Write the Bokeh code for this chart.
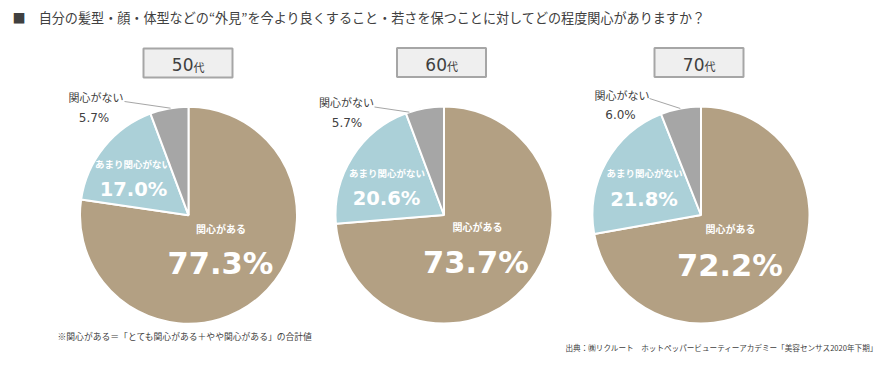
import math
from bokeh.plotting import figure
from bokeh.models import Range1d
from bokeh.core.properties import value
from bokeh.embed import file_html
from bokeh.resources import INLINE

# ---- data ----
groups = ["50代", "60代", "70代"]
group_num = ["50", "60", "70"]
group_suffix = ["代", "代", "代"]
categories = ["関心がある", "あまり関心がない", "関心がない"]
shares = {
    "50代": [77.3, 17.0, 5.7],
    "60代": [73.7, 20.6, 5.7],
    "70代": [72.2, 21.8, 6.0],
}
title_text = "■　自分の髪型・顔・体型などの“外見”を今より良くすること・若さを保つことに対してどの程度関心がありますか？"
note_text = "※関心がある＝「とても関心がある＋やや関心がある」の合計値"
source_text = "出典：㈱リクルート　ホットペッパービューティーアカデミー「美容センサス2020年下期」"

# ---- layout (page pixel coordinates) ----
W, H = 893, 366
colors = ["#B3A083", "#ABD0D8", "#A6A6A6"]
centers = [(188.0, 214.7), (443.5, 214.5), (700.5, 214.5)]
R = 108.5
box_centers = [(187.5, 62.5), (441.0, 62.0), (698.5, 62.0)]
# label anchor positions per pie: (big-cat label, big pct, mid label, mid pct, small label, small pct)
lab_pos = [
    [(220.5, 228), (220, 263), (132.5, 163), (133, 189), (95.5, 96.7), (93.5, 117)],
    [(477, 226), (475.5, 262), (386.5, 172.7), (386, 198), (346, 101.5), (346.5, 122)],
    [(730, 228), (729.5, 265), (644, 172.7), (643.5, 199), (621.5, 94), (620, 114)],
]
leader_start = [(124, 101), (374, 106.5), (649, 98)]
leader_angle = [99.5, 108.6, 101.0]

JP = value("Noto Sans CJK JP")
NUM = value("DejaVu Sans")
DARK = "#404040"


def X(px):
    return px


def Y(py):
    return H - py


p = figure(width=W, height=H, x_range=Range1d(0, W), y_range=Range1d(0, H),
           output_backend="svg", toolbar_location=None, min_border=0)
p.axis.visible = False
p.grid.visible = False
p.outline_line_color = None
p.background_fill_color = "white"

for gi, g in enumerate(groups):
    cx, cy = centers[gi]
    vals = shares[g]
    tot = sum(vals)
    cum = 0.0
    starts, ends = [], []
    for v in vals:
        starts.append(math.pi / 2 - 2 * math.pi * cum / tot)
        cum += v
        ends.append(math.pi / 2 - 2 * math.pi * cum / tot)
    p.wedge(x=[X(cx)] * 3, y=[Y(cy)] * 3, radius=R, start_angle=starts, end_angle=ends,
            direction="clock", fill_color=colors, line_color="white", line_width=2)

    lp = lab_pos[gi]
    p.text(x=[X(lp[0][0])], y=[Y(lp[0][1])], text=[categories[0]], text_font=JP,
           text_font_size="10px", text_font_style="bold", text_color="white",
           text_align="center", text_baseline="middle")
    p.text(x=[X(lp[1][0])], y=[Y(lp[1][1])], text=[f"{vals[0]:.1f}%"], text_font=NUM,
           text_font_size="30.5px", text_font_style="bold", text_color="white",
           text_align="center", text_baseline="middle")
    p.text(x=[X(lp[2][0])], y=[Y(lp[2][1])], text=[categories[1]], text_font=JP,
           text_font_size="9.5px", text_font_style="bold", text_color="white",
           text_align="center", text_baseline="middle")
    p.text(x=[X(lp[3][0])], y=[Y(lp[3][1])], text=[f"{vals[1]:.1f}%"], text_font=NUM,
           text_font_size="19.5px", text_font_style="bold", text_color="white",
           text_align="center", text_baseline="middle")
    p.text(x=[X(lp[4][0])], y=[Y(lp[4][1])], text=[categories[2]], text_font=JP,
           text_font_size="11px", text_color=DARK,
           text_align="center", text_baseline="middle")
    p.text(x=[X(lp[5][0])], y=[Y(lp[5][1])], text=[f"{vals[2]:.1f}%"], text_font=NUM,
           text_font_size="12px", text_color=DARK,
           text_align="center", text_baseline="middle")
    sx, sy = leader_start[gi]
    a = math.radians(leader_angle[gi])
    ex, ey = cx + R * math.cos(a), cy - R * math.sin(a)
    p.line(x=[X(sx), X(ex)], y=[Y(sy), Y(ey)], line_color="#A6A6A6", line_width=1)

    bx, by = box_centers[gi]
    p.rect(x=[X(bx)], y=[Y(by)], width=89, height=29, fill_color="#EFEFEF",
           line_color="#A6A6A6", line_width=2)
    p.text(x=[X(bx + 5.5)], y=[Y(by + 1.5)], text=[group_num[gi]], text_font=NUM,
           text_font_size="17px", text_color=DARK, text_align="right",
           text_baseline="middle")
    p.text(x=[X(bx + 5.5)], y=[Y(by + 3.5)], text=[group_suffix[gi]], text_font=JP,
           text_font_size="11px", text_color=DARK, text_align="left",
           text_baseline="middle")

p.text(x=[X(12)], y=[Y(17)], text=[title_text], text_font=JP, text_font_size="13.1px",
       text_color=DARK, text_align="left", text_baseline="middle")
p.text(x=[X(57)], y=[Y(336)], text=[note_text], text_font=JP, text_font_size="8.8px",
       text_color=DARK, text_align="left", text_baseline="middle")
p.text(x=[X(878)], y=[Y(347)], text=[source_text], text_font=JP, text_font_size="7.6px",
       text_color=DARK, text_align="right", text_baseline="middle")

open("out.html", "w").write(file_html(p, INLINE))
